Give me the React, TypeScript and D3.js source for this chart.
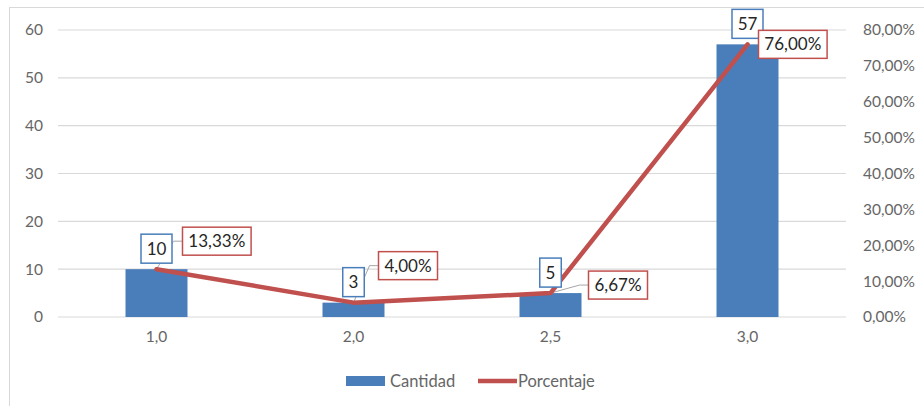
import { useEffect } from 'react';
import * as d3 from 'd3';

const categories = ['1,0', '2,0', '2,5', '3,0'];
const cantidad = [10, 3, 5, 57];
const porcentaje = [13.33, 4.0, 6.67, 76.0];
const leftTicks = [0, 10, 20, 30, 40, 50, 60];
const rightTicks = [0, 10, 20, 30, 40, 50, 60, 70, 80];

// manual label placement, like the Excel original (dx from point to box left, dy from point to box middle)
const pctLabelOffsets = [
  { dx: 26, dy: -28 },
  { dx: 25, dy: -37 },
  { dx: 38, dy: -8 },
  { dx: 11, dy: 0 },
];

const W = 924;
const H = 406;
const margin = { top: 30, right: 78, bottom: 89, left: 58 };
const BLUE = '#4a7ebb';
const RED = '#c0504d';
const FONT = 'Lato, "Open Sans", sans-serif';
const TEXT = '#666666';

const fmtPct = (v: number) => v.toFixed(2).replace('.', ',') + '%';

export default function App() {
  useEffect(() => {
    document.body.style.margin = '0';
  }, []);

  const x = d3.scaleBand().domain(categories).range([margin.left, W - margin.right]);
  const yL = d3.scaleLinear().domain([0, 60]).range([H - margin.bottom, margin.top]);
  const yR = d3.scaleLinear().domain([0, 80]).range([H - margin.bottom, margin.top]);
  const barW = 62;

  const pts = categories.map((c, i) => [x(c)! + x.bandwidth() / 2, yR(porcentaje[i])] as [number, number]);
  const line = d3.line<[number, number]>()(pts) || '';

  return (
    <svg width={W} height={H} style={{ display: 'block', background: '#fff' }} fontFamily={FONT}>
      <rect x={9.5} y={7.5} width={W} height={H} fill="#fff" stroke="#d9d9d9" />

      {leftTicks.map(t => (
        <g key={'l' + t}>
          <line x1={margin.left} x2={W - margin.right} y1={yL(t)} y2={yL(t)} stroke="#d9d9d9" strokeWidth={1.2} />
          <text x={43} y={yL(t)} dy="0.35em" textAnchor="end" fontSize={15.5} fill={TEXT}>{t}</text>
        </g>
      ))}
      {rightTicks.map(t => (
        <text key={'r' + t} x={863} y={yR(t)} dy="0.35em" fontSize={15.5} fill={TEXT}>{fmtPct(t)}</text>
      ))}

      {categories.map((c, i) => (
        <rect key={c} x={x(c)! + x.bandwidth() / 2 - barW / 2} y={yL(cantidad[i])} width={barW}
          height={yL(0) - yL(cantidad[i])} fill={BLUE} />
      ))}

      {categories.map(c => (
        <text key={'x' + c} x={x(c)! + x.bandwidth() / 2} y={337} dy="0.35em" textAnchor="middle" fontSize={15.5} fill={TEXT}>{c}</text>
      ))}

      {/* leader lines */}
      {pts.map(([px, py], i) => {
        const o = pctLabelOffsets[i];
        if (o.dx < 15) return null;
        const bx = px + o.dx;
        const by = py + o.dy;
        return (
          <polyline key={'ld' + i} points={`${bx},${by} ${bx - 9},${by} ${px},${py}`} fill="none" stroke="#a6a6a6" strokeWidth={1} />
        );
      })}

      <path d={line} fill="none" stroke={RED} strokeWidth={4.5} strokeLinejoin="round" strokeLinecap="round" />

      {/* count labels */}
      {categories.map((c, i) => {
        const cx = x(c)! + x.bandwidth() / 2;
        const txt = String(cantidad[i]);
        const bw = txt.length * 9.5 + 12;
        const bh = 29;
        const by = yL(cantidad[i]) - 6 - bh;
        return (
          <g key={'cl' + c}>
            <rect x={cx - bw / 2} y={by} width={bw} height={bh} fill="#fff" stroke={BLUE} strokeWidth={1.5} />
            <text x={cx} y={by + bh / 2} dy="0.36em" textAnchor="middle" fontSize={17} fill="#262626">{txt}</text>
          </g>
        );
      })}

      {/* percentage labels */}
      {pts.map(([px, py], i) => {
        const o = pctLabelOffsets[i];
        const txt = fmtPct(porcentaje[i]);
        const bw = txt.length * 9.6 + 11;
        const bh = 28;
        const bx = px + o.dx;
        const by = py + o.dy - bh / 2;
        return (
          <g key={'pl' + i}>
            <rect x={bx} y={by} width={bw} height={bh} fill="#fff" stroke={RED} strokeWidth={1.5} />
            <text x={bx + bw / 2} y={by + bh / 2} dy="0.36em" textAnchor="middle" fontSize={17} fill="#262626">{txt}</text>
          </g>
        );
      })}

      {/* legend */}
      <rect x={346} y={376} width={39} height={10} fill={BLUE} />
      <text x={390} y={381} dy="0.35em" fontSize={16.5} fill={TEXT}>Cantidad</text>
      <line x1={478} x2={517} y1={381} y2={381} stroke={RED} strokeWidth={4.5} />
      <text x={518} y={381} dy="0.35em" fontSize={16.5} fill={TEXT}>Porcentaje</text>
    </svg>
  );
}
